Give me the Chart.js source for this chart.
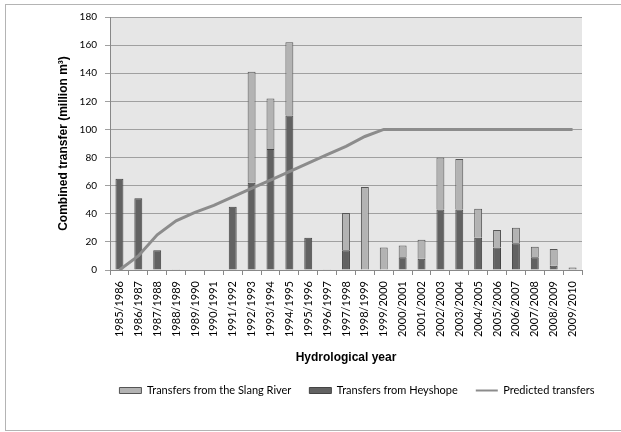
<!DOCTYPE html>
<html>
<head>
<meta charset="utf-8">
<script src="https://cdn.jsdelivr.net/npm/chart.js@4/dist/chart.umd.min.js"></script>
<style>
html,body{margin:0;padding:0;background:#fff;}
canvas{display:block;}
</style>
</head>
<body>
<canvas id="c" width="621" height="432"></canvas>
<script>
const categories = ['1985/1986','1986/1987','1987/1988','1988/1989','1989/1990','1990/1991','1991/1992','1992/1993','1993/1994','1994/1995','1995/1996','1996/1997','1997/1998','1998/1999','1999/2000','2000/2001','2001/2002','2002/2003','2003/2004','2004/2005','2005/2006','2006/2007','2007/2008','2008/2009','2009/2010'];
const heyshope = [65,51,14,0,0,0,45,62,86,110,23,0,14,0,0,9,8,43,43,23,16,19,9,3,0];
const slang = [0,0,0,0.6,0,0,0,79,36,52,0,0.6,26.5,59,16,8.5,13.5,37,36,20.5,12.5,11,7.5,12,1.7];
const predicted = [0,10,25,35,41,46,52,58,64,70,76,82,88,95,100,100,100,100,100,100,100,100,100,100,100];
const yTicks = [0,20,40,60,80,100,120,140,160,180];

const legendRank = {'Transfers from the Slang River':0,'Transfers from Heyshope':1,'Predicted transfers':2};

const decor = {
  id:'decor',
  beforeDraw(chart){
    const {ctx, chartArea:a} = chart;
    ctx.save();
    ctx.fillStyle = '#e6e6e6';
    ctx.fillRect(a.left, a.top, a.right - a.left, a.bottom - a.top);
    ctx.strokeStyle = '#b4b4b4';
    ctx.lineWidth = 1;
    ctx.strokeRect(5.5, 4.5, 700, 426);
    ctx.restore();
  },
  afterLayout(chart){
    if (chart.legend) { chart.legend.left += 40; chart.legend.right += 40; }
  }
};

new Chart(document.getElementById('c'), {
  type:'bar',
  data:{
    labels:categories,
    datasets:[
      {label:'Transfers from Heyshope', data:heyshope, backgroundColor:'#626262', borderColor:'#444444', borderWidth:1, stack:'s', order:1, barPercentage:0.42, categoryPercentage:1, pointStyle:'rect'},
      {label:'Transfers from the Slang River', data:slang, backgroundColor:'#b3b3b3', borderColor:'#555555', borderWidth:1, stack:'s', order:1, barPercentage:0.42, categoryPercentage:1, pointStyle:'rect'},
      {type:'line', label:'Predicted transfers', data:predicted, borderColor:'#8c8c8c', backgroundColor:'#8c8c8c', borderWidth:3, pointRadius:0, tension:0, order:0, pointStyle:'line'}
    ]
  },
  options:{
    responsive:false,
    animation:false,
    layout:{padding:{left:52, right:39, top:17, bottom:26}},
    plugins:{
      tooltip:{enabled:false},
      legend:{
        position:'bottom',
        labels:{
          usePointStyle:true, pointStyleWidth:22, boxWidth:22, boxHeight:6,
          padding:18, color:'#000',
          font:{family:'Lato', size:11},
          generateLabels(chart){
            const items = Chart.defaults.plugins.legend.labels.generateLabels(chart);
            items.forEach(it => { if (it.text === 'Predicted transfers') it.lineWidth = 2; });
            return items;
          },
          sort:(a,b)=>legendRank[a.text]-legendRank[b.text]
        }
      }
    },
    scales:{
      x:{
        stacked:true,
        grid:{drawOnChartArea:false, drawTicks:true, tickLength:5, color:'#888'},
        border:{color:'#888'},
        ticks:{maxRotation:90, minRotation:90, color:'#000', font:{family:'Lato', size:11}, padding:6},
        title:{display:true, text:'Hydrological year', color:'#000', font:{family:'Liberation Sans', size:12, weight:'bold'}, padding:{top:4,bottom:2}},
        afterFit(s){ s.height = 97; }
      },
      y:{
        stacked:true, min:0, max:180,
        afterBuildTicks(s){ s.ticks = yTicks.map(v=>({value:v})); },
        grid:{color:'#a0a0a0', tickLength:5, drawTicks:true},
        border:{color:'#888'},
        ticks:{color:'#000', font:{family:'Lato', size:10}, padding:8},
        title:{display:true, text:'Combined transfer (million m³)', color:'#000', font:{family:'Liberation Sans', size:12, weight:'bold'}, padding:{top:4,bottom:4}},
        afterFit(s){ s.width = 110 - 52; }
      }
    }
  },
  plugins:[decor]
});
</script>
</body>
</html>
